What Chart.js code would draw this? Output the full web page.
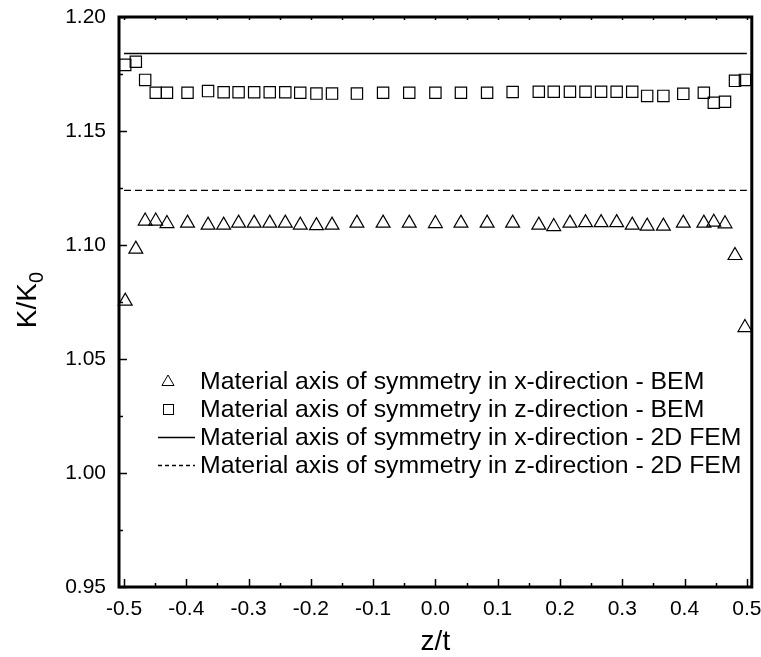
<!DOCTYPE html>
<html>
<head>
<meta charset="utf-8">
<script src="https://cdn.jsdelivr.net/npm/chart.js"></script>
<style>
  body { margin: 0; background: #fff; }
</style>
</head>
<body>
<canvas id="graficoKK0" width="761" height="657"></canvas>
<script>
// posições z/t dos pontos BEM
const posicoesZ = [-0.498, -0.481, -0.466, -0.449, -0.431, -0.398, -0.365, -0.340, -0.316, -0.291,
  -0.266, -0.241, -0.217, -0.191, -0.166, -0.126, -0.084, -0.042, 0.000, 0.041,
  0.083, 0.124, 0.166, 0.190, 0.216, 0.241, 0.266, 0.291, 0.316, 0.340,
  0.366, 0.398, 0.431, 0.447, 0.465, 0.481, 0.497];

// eixo de simetria em x - BEM (triângulos)
const bemX = [1.0754, 1.0982, 1.1105, 1.1105, 1.1094, 1.1096, 1.1087, 1.1087, 1.1096, 1.1096,
  1.1096, 1.1096, 1.1087, 1.1085, 1.1087, 1.1096, 1.1096, 1.1096, 1.1094, 1.1096,
  1.1096, 1.1096, 1.1087, 1.1081, 1.1096, 1.1098, 1.1098, 1.1098, 1.1087, 1.1083,
  1.1083, 1.1096, 1.1096, 1.1100, 1.1093, 1.0954, 1.0638];

// eixo de simetria em z - BEM (quadrados)
const bemZ = [1.1790, 1.1804, 1.1724, 1.1668, 1.1668, 1.1668, 1.1675, 1.1670, 1.1670, 1.1670,
  1.1670, 1.1670, 1.1668, 1.1664, 1.1664, 1.1664, 1.1668, 1.1668, 1.1668, 1.1668,
  1.1668, 1.1671, 1.1672, 1.1672, 1.1672, 1.1672, 1.1672, 1.1672, 1.1672, 1.1654,
  1.1654, 1.1663, 1.1668, 1.1624, 1.1628, 1.1720, 1.1724];

// 2D FEM (linhas horizontais)
const femZ = [-0.5, 0.5];
const femX = [1.184, 1.184];
const femZdir = [1.124, 1.124];

const ticksX = [-0.5, -0.4, -0.3, -0.2, -0.1, 0.0, 0.1, 0.2, 0.3, 0.4, 0.5];
const ticksY = [0.95, 1.00, 1.05, 1.10, 1.15, 1.20];

const legendas = [
  'Material axis of symmetry in x-direction - BEM',
  'Material axis of symmetry in z-direction - BEM',
  'Material axis of symmetry in x-direction - 2D FEM',
  'Material axis of symmetry in z-direction - 2D FEM'
];

const fonte = '"Liberation Sans", Arial, Helvetica, sans-serif';

function montaPontos(xs, ys) {
  return xs.map((x, i) => ({ x: x, y: ys[i] }));
}

function desenhaTriangulo(ctx, x, y, r) {
  ctx.beginPath();
  ctx.moveTo(x, y - r);
  ctx.lineTo(x + r * 0.866, y + r * 0.5);
  ctx.lineTo(x - r * 0.866, y + r * 0.5);
  ctx.closePath();
  ctx.stroke();
}

const molduraPlugin = {
  id: 'moldura',
  afterDraw(chart) {
    const ctx = chart.ctx;
    const area = chart.chartArea;
    const sx = chart.scales.x;
    const sy = chart.scales.y;
    ctx.save();
    ctx.strokeStyle = '#000';
    ctx.fillStyle = '#000';

    // ticks para dentro
    ctx.lineWidth = 1.5;
    for (let i = 0; i <= 20; i++) {
      const v = -0.5 + i * 0.05;
      const px = Math.round(sx.getPixelForValue(v)) + 0.5;
      const comp = i % 2 === 0 ? 8 : 4;
      ctx.beginPath();
      ctx.moveTo(px, area.bottom);
      ctx.lineTo(px, area.bottom - comp);
      ctx.moveTo(px, area.top);
      ctx.lineTo(px, area.top + 3);
      ctx.stroke();
    }
    for (let i = 0; i <= 10; i++) {
      const v = 0.95 + i * 0.025;
      const py = Math.round(sy.getPixelForValue(v)) + 0.5;
      const comp = i % 2 === 0 ? 8 : 4;
      ctx.beginPath();
      ctx.moveTo(area.left, py);
      ctx.lineTo(area.left + comp, py);
      ctx.stroke();
    }

    // moldura
    ctx.lineWidth = 3;
    ctx.strokeRect(area.left, area.top, area.right - area.left, area.bottom - area.top);

    // título eixo x
    ctx.font = '28px ' + fonte;
    ctx.textAlign = 'center';
    ctx.textBaseline = 'alphabetic';
    ctx.fillText('z/t', (area.left + area.right) / 2, 650);

    // título eixo y com subscrito
    ctx.save();
    ctx.translate(36, 300);
    ctx.rotate(-Math.PI / 2);
    ctx.textAlign = 'left';
    ctx.font = '28px ' + fonte;
    const w1 = ctx.measureText('K/K').width;
    ctx.font = '20px ' + fonte;
    const w2 = ctx.measureText('0').width;
    const x0 = -(w1 + w2) / 2;
    ctx.font = '28px ' + fonte;
    ctx.fillText('K/K', x0, 0);
    ctx.font = '20px ' + fonte;
    ctx.fillText('0', x0 + w1, 7);
    ctx.restore();

    // legenda
    const linhas = [381, 409, 437, 465];
    ctx.font = '24.8px ' + fonte;
    ctx.textAlign = 'left';
    ctx.textBaseline = 'middle';
    ctx.lineWidth = 1;
    legendas.forEach((texto, i) => {
      const y = linhas[i];
      if (i === 0) {
        desenhaTriangulo(ctx, 168, y + 1, 7);
      } else if (i === 1) {
        ctx.strokeRect(163.5, y - 4.5, 10, 10);
      } else {
        ctx.lineWidth = 1.3;
        ctx.setLineDash(i === 3 ? [4, 3] : []);
        ctx.beginPath();
        ctx.moveTo(158, y + 0.5);
        ctx.lineTo(195, y + 0.5);
        ctx.stroke();
        ctx.setLineDash([]);
        ctx.lineWidth = 1;
      }
      ctx.fillText(texto, 200, y + 1);
    });

    ctx.restore();
  }
};

function constroiGrafico() {
  const data = {
    datasets: [
      {
        label: legendas[0],
        data: montaPontos(posicoesZ, bemX),
        pointStyle: 'triangle',
        pointRadius: 8,
        borderColor: '#000',
        backgroundColor: 'rgba(0,0,0,0)',
        borderWidth: 1.2,
        showLine: false,
        clip: false
      },
      {
        label: legendas[1],
        data: montaPontos(posicoesZ, bemZ),
        pointStyle: 'rect',
        pointRadius: 8,
        borderColor: '#000',
        backgroundColor: 'rgba(0,0,0,0)',
        borderWidth: 1.2,
        showLine: false,
        clip: false
      },
      {
        label: legendas[2],
        data: montaPontos(femZ, femX),
        showLine: true,
        pointRadius: 0,
        borderColor: '#000',
        borderWidth: 1.3,
        clip: false
      },
      {
        label: legendas[3],
        data: montaPontos(femZ, femZdir),
        showLine: true,
        pointRadius: 0,
        borderColor: '#000',
        borderWidth: 1.3,
        borderDash: [7, 4],
        clip: false
      }
    ]
  };

  const config = {
    type: 'scatter',
    data: data,
    options: {
      responsive: false,
      devicePixelRatio: 1,
      animation: false,
      layout: {
        padding: { top: 17, right: 9, left: 0, bottom: 0 }
      },
      plugins: {
        legend: { display: false },
        tooltip: { enabled: false }
      },
      scales: {
        x: {
          type: 'linear',
          min: -0.508,
          max: 0.508,
          grid: { display: false },
          border: { display: false },
          afterBuildTicks: (scale) => {
            scale.ticks = ticksX.map(v => ({ value: v }));
          },
          afterFit: (scale) => {
            scale.height = 70;
            scale.paddingLeft = 0;
            scale.paddingRight = 0;
          },
          ticks: {
            color: '#000',
            padding: 2,
            maxRotation: 0,
            autoSkip: false,
            font: { family: fonte, size: 21 },
            callback: (v) => Number(v).toFixed(1)
          }
        },
        y: {
          type: 'linear',
          min: 0.95,
          max: 1.20,
          grid: { display: false },
          border: { display: false },
          afterBuildTicks: (scale) => {
            scale.ticks = ticksY.map(v => ({ value: v }));
          },
          afterFit: (scale) => {
            scale.width = 119;
            scale.paddingTop = 0;
            scale.paddingBottom = 0;
          },
          ticks: {
            color: '#000',
            padding: 5,
            autoSkip: false,
            font: { family: fonte, size: 21 },
            callback: (v) => Number(v).toFixed(2)
          }
        }
      }
    },
    plugins: [molduraPlugin]
  };

  new Chart(document.getElementById('graficoKK0'), config);
}

constroiGrafico();
</script>
</body>
</html>
